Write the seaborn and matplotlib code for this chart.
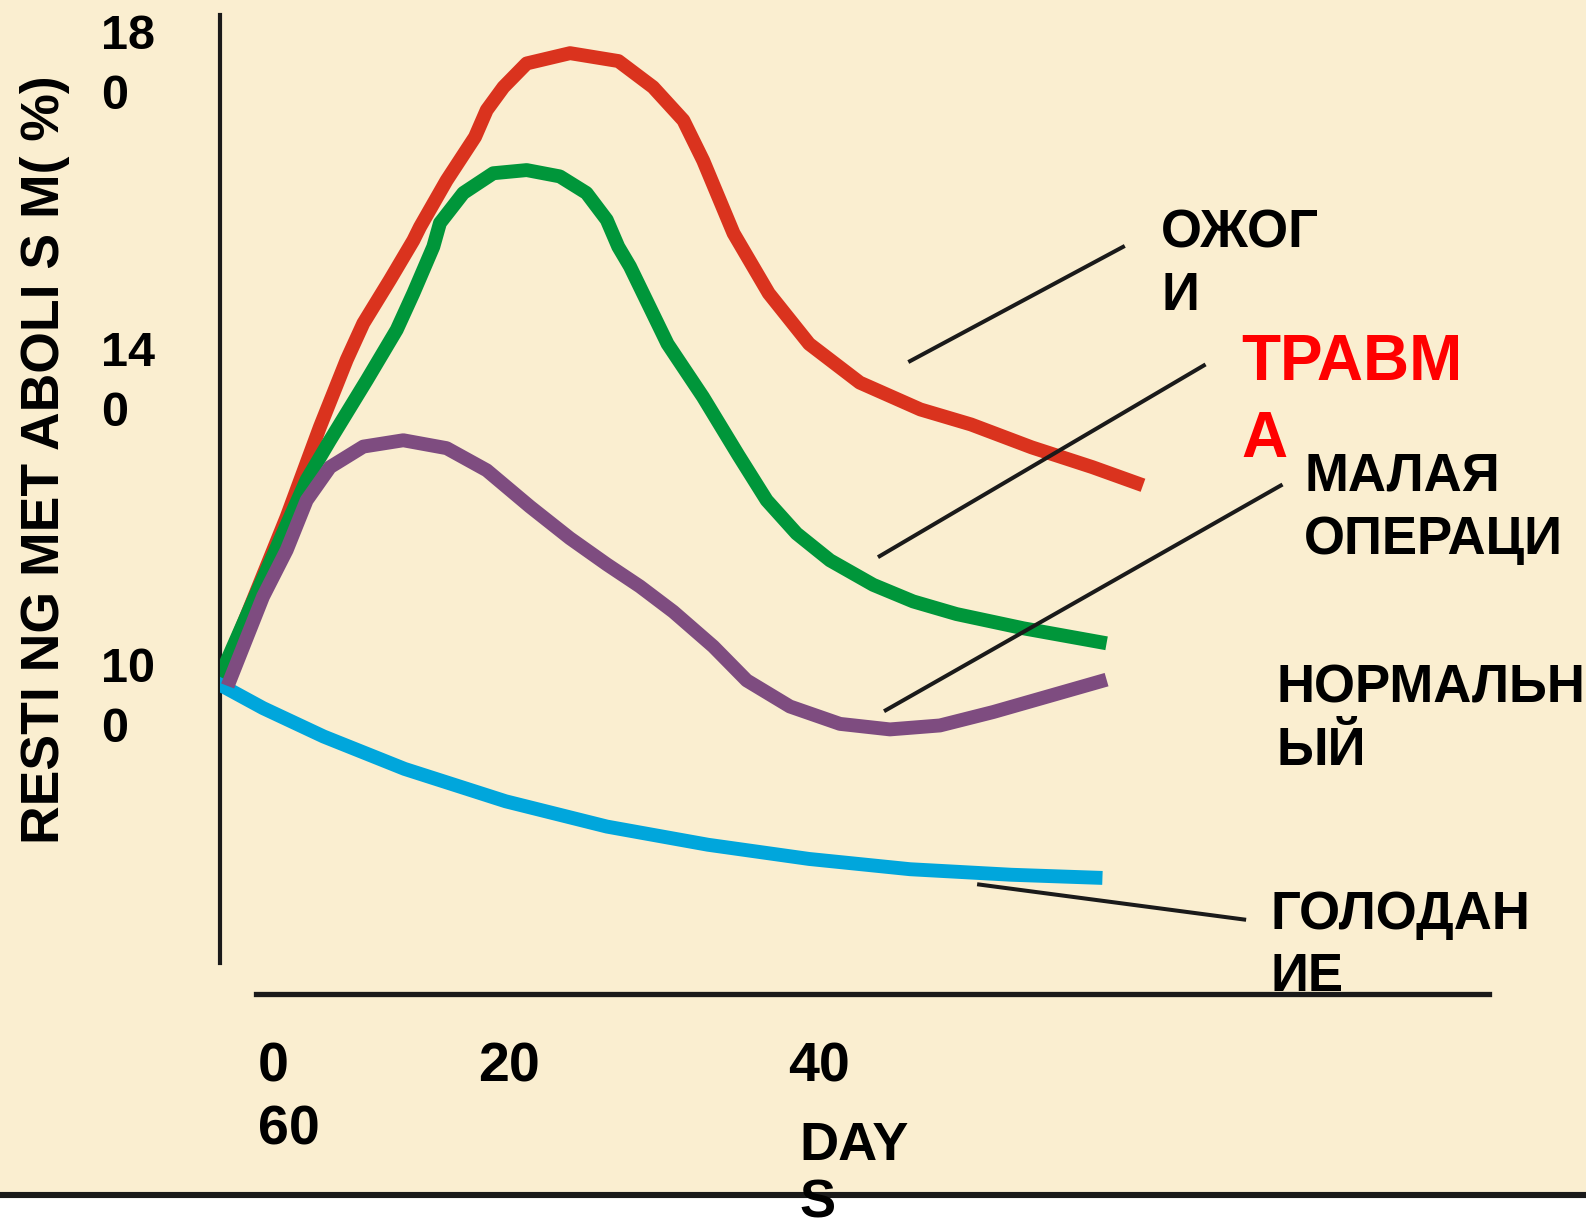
import matplotlib
matplotlib.use("Agg")
import matplotlib.pyplot as plt
import seaborn as sns
import pandas as pd
from matplotlib import font_manager
from matplotlib.patches import Rectangle
from matplotlib.lines import Line2D

# ---------------- data ----------------
red_days = [0, 4.54, 6.79, 8.6, 9.72, 11.52, 13.1, 13.55, 15.35, 17.27, 18.06, 19.19, 20.76, 23.69,
            26.96, 29.3, 31.35, 32.69, 34.74, 37.12, 39.85, 43.27, 47.37, 50.79, 54.89, 58.99, 62.41]
red_vals = [100, 121.0, 132.4, 140.9, 145.5, 151.0, 156.0, 157.7, 163.6, 169.1, 172.5, 175.4, 178.4,
            179.7, 178.7, 175.4, 171.2, 166.1, 156.9, 149.3, 142.9, 138.0, 134.6, 132.7, 129.8,
            127.3, 125.0]

green_days = [-0.2, 4.09, 5.89, 7.47, 9.95, 11.98, 13.1, 14.45, 14.9, 16.48, 18.5, 20.76, 23.0, 24.8,
              26.17, 26.95, 27.74, 30.28, 32.67, 35.07, 36.98, 39.0, 41.26, 44.18, 46.88, 49.81,
              54.32, 59.95]
green_vals = [99.8, 118.1, 125.7, 130.7, 138.3, 144.7, 149.3, 155.2, 158.2, 162.0, 164.5, 164.9, 164.1,
              162.0, 158.6, 155.2, 152.7, 142.9, 136.2, 128.8, 123.1, 118.9, 115.5, 112.4, 110.3,
              108.7, 106.9, 105.0]

purple_days = [0.55, 2.94, 4.54, 5.89, 7.47, 9.72, 12.42, 15.35, 18.06, 20.98, 23.68, 26.17, 28.41,
               30.67, 33.37, 35.63, 38.55, 41.93, 45.31, 48.69, 52.29, 59.95]
purple_vals = [99.6, 110.9, 116.8, 123.1, 127.3, 129.9, 130.7, 129.7, 126.9, 122.3, 118.3, 115.0, 112.2,
               109.0, 104.6, 100.3, 97.0, 94.8, 94.1, 94.6, 96.3, 100.4]

cyan_days = [-0.2, 2.94, 7.04, 12.51, 19.34, 26.18, 33.01, 39.85, 46.68, 53.52, 59.67]
cyan_vals = [100.0, 96.8, 93.2, 89.1, 85.0, 81.8, 79.5, 77.7, 76.4, 75.7, 75.3]

# y tick labels (as written on the original)
ytick_vals = [178.0, 137.9, 97.9]
ytick_labels = ["18\n0", "14\n0", "10\n0"]
# x tick labels (as written on the original)
xtick_days = [4.67, 19.55, 40.53]
xtick_labels = ["0\n60", "20", "40"]

label_texts = ["ОЖОГ\nИ", "ТРАВМ\nА", "МАЛАЯ\nОПЕРАЦИ", "НОРМАЛЬН\nЫЙ", "ГОЛОДАН\nИЕ"]
label_pos = [(63.64, 160.0), (69.05, 144.3), (73.30, 129.3), (71.40, 102.4), (71.00, 73.8)]
label_colors = ["black", "#FF0000", "black", "black", "black"]
label_sizes = [38, 46, 38, 38, 38]
label_spacing = [1.32, 1.36, 1.36, 1.32, 1.32]

leader_lines = [((46.55, 61.18), (140.6, 155.3)),
                ((44.50, 66.64), (115.9, 140.3)),
                ((44.91, 71.84), (96.4, 125.1)),
                ((51.20, 69.38), (74.5, 70.0))]

BG = "#FAEED0"
colors = {"burns": "#DA331E", "trauma": "#00963A", "minor": "#7E4C80", "starvation": "#00A6DC"}

df = pd.concat([
    pd.DataFrame({"day": red_days, "val": red_vals, "s": "burns"}),
    pd.DataFrame({"day": green_days, "val": green_vals, "s": "trauma"}),
    pd.DataFrame({"day": cyan_days, "val": cyan_vals, "s": "starvation"}),
    pd.DataFrame({"day": purple_days, "val": purple_vals, "s": "minor"}),
], ignore_index=True)

# ---------------- style ----------------
sns.set_theme(style="white")
names = {f.name for f in font_manager.fontManager.ttflist}
NARROW = "Liberation Sans Narrow" if "Liberation Sans Narrow" in names else "Liberation Sans"
plt.rcParams["font.family"] = ["Liberation Sans", "DejaVu Sans"]
plt.rcParams["font.weight"] = "bold"
plt.rcParams["text.color"] = "black"
plt.rcParams["xtick.color"] = "black"
plt.rcParams["ytick.color"] = "black"
plt.rcParams["axes.labelcolor"] = "black"

fig = plt.figure(figsize=(15.86, 12.27), dpi=100)
fig.patch.set_facecolor(BG)
ax = fig.add_axes([0.1384, 0.02638, 0.8616, 0.97362])
ax.set_facecolor("none")

# white strip at bottom + thick line
fig.add_artist(Rectangle((0, 0), 1, 0.02638, transform=fig.transFigure,
                         facecolor="white", edgecolor="none", zorder=-2))
fig.add_artist(Line2D([0, 1], [0.02638, 0.02638], transform=fig.transFigure,
                      color="#1a1a1a", lw=4.4, zorder=-1))

for name in ["burns", "trauma", "starvation", "minor"]:
    sub = df[df["s"] == name]
    sns.lineplot(data=sub, x="day", y="val", ax=ax, color=colors[name], lw=10,
                 sort=False, estimator=None, legend=False,
                 solid_capstyle="butt", solid_joinstyle="round")

for (xs, ys) in leader_lines:
    ax.plot(xs, ys, color="#1a1a1a", lw=2.9, solid_capstyle="butt")

for txt, (x, y), c, fs, ls in zip(label_texts, label_pos, label_colors, label_sizes, label_spacing):
    ax.text(x, y, txt, color=c, fontsize=fs, fontweight="bold", ha="left", va="top",
            linespacing=ls, clip_on=False)

ax.set_xlim(0, 92.35)
ax.set_ylim(35.21, 186.43)

# axes lines
for sp in ["top", "right"]:
    ax.spines[sp].set_visible(False)
ax.spines["left"].set_bounds(64.5, 184.5)
ax.spines["left"].set_linewidth(3.0)
ax.spines["left"].set_color("#1a1a1a")
ax.spines["left"].set_zorder(1)
ax.spines["bottom"].set_position(("data", 60.56))
ax.spines["bottom"].set_bounds(2.46, 85.78)
ax.spines["bottom"].set_linewidth(3.8)
ax.spines["bottom"].set_color("#1a1a1a")

ax.set_yticks(ytick_vals)
ax.set_yticklabels(ytick_labels)
ax.tick_params(axis="y", length=0, pad=85, labelsize=35, labelcolor="black")
for t in ax.get_yticklabels():
    t.set_horizontalalignment("left")
    t.set_verticalalignment("center")
    t.set_multialignment("left")
    t.set_linespacing(1.42)
    t.set_fontweight("bold")

ax.set_xticks(xtick_days)
ax.set_xticklabels(xtick_labels)
ax.tick_params(axis="x", length=0, pad=34, labelsize=40, labelcolor="black")
for t in ax.get_xticklabels():
    t.set_multialignment("left")
    t.set_linespacing(1.28)
    t.set_fontfamily(NARROW)
    t.set_fontweight("bold")

ax.set_xlabel("DAY\nS", fontsize=39, fontweight="bold", family=NARROW, linespacing=1.2,
              color="black")
ax.xaxis.set_label_coords(0.4241, 0.0618)
ax.xaxis.label.set_horizontalalignment("left")
ax.xaxis.label.set_verticalalignment("top")
ax.xaxis.label.set_multialignment("left")
ax.xaxis.label.set_zorder(5)

ax.set_ylabel("")
ax.text(-0.128, 0.615, "RESTI NG MET ABOLI S M( %)", transform=ax.transAxes, rotation=90,
        ha="center", va="center", fontsize=38.5, fontweight="bold", family=NARROW,
        color="black", clip_on=False)

fig.savefig("out.png", dpi=100, facecolor=fig.get_facecolor())
